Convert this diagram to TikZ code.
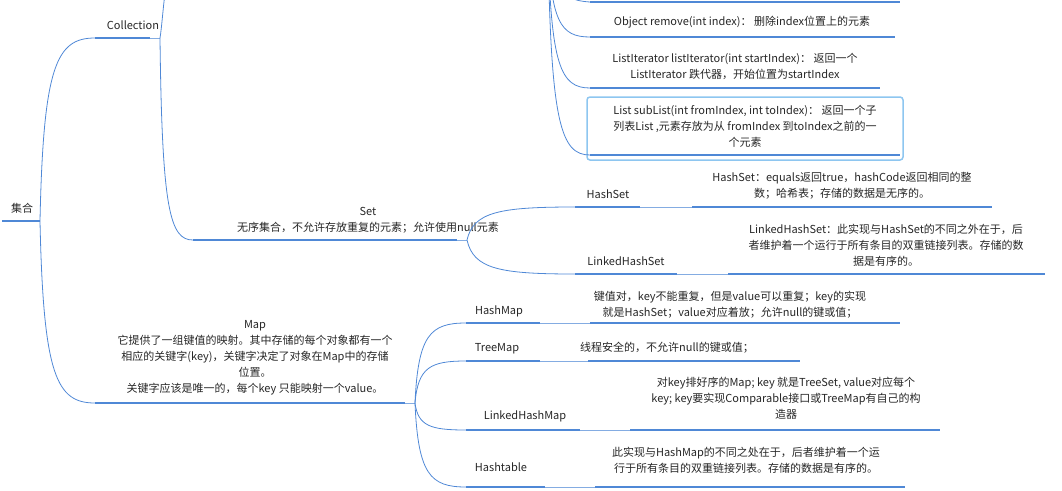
\documentclass[tikz,border=0pt]{standalone}
\usepackage{fontspec}
\setmainfont{Noto Sans CJK SC}
\usetikzlibrary{calc}
\definecolor{mb}{HTML}{4F88D6}
\definecolor{lb}{HTML}{8EC6F0}
\tikzset{ul/.style={draw=mb,line width=2.6pt},
 thin/.style={draw=mb!70,line width=0.8pt},
 conn/.style={draw=mb,line width=0.8pt},
 tx/.style={inner sep=0pt,align=center,font=\fontsize{11}{16}\selectfont,text=black!85}}
\newcommand\mcurve[2]{\draw[conn] let \p1=(#1),\p2=(#2) in (#1) .. controls ({\x1+0.06*(\x2-\x1)},{\y1+0.85*(\y2-\y1)}) and ({\x1+0.3*(\x2-\x1)},\y2) .. (#2);}
\begin{document}
\begin{tikzpicture}[x=1pt,y=-1pt]
\useasboundingbox (0,0) rectangle (1062,490);
\clip (0,0) rectangle (1062,490);
% root
\coordinate (r0) at (2,221); \coordinate (r1) at (40,221);
\draw[ul] (r0)--(r1); \node[tx] (rt) at (22,208) {集合};
% Collection
\coordinate (c0) at (95,38); \coordinate (c1) at (150,38); \coordinate (c2) at (160,38);
\draw[ul] (c0)--(c1); \draw[thin] (c1)--(c2);
\node[tx] (ct) at (133,25) {Collection};
% Map
\coordinate (m0) at (95,403); \coordinate (m1) at (405,403); \coordinate (m2) at (415,403);
\draw[ul] (m0)--(m1); \draw[thin] (m1)--(m2);
\node[tx] (mt) at (255,358) {Map\\它提供了一组键值的映射。其中存储的每个对象都有一个\\相应的关键字(key)，关键字决定了对象在Map中的存储\\位置。\\关键字应该是唯一的，每个key 只能映射一个value。};
\mcurve{r1}{c0} \mcurve{r1}{m0}
% List origin (off top)
\coordinate (lo) at (548,-60);
\coordinate (cl) at (175,-60);
\draw[conn] (c2) .. controls (163,20) and (164,-20) .. (cl);
% Set
\coordinate (s0) at (193,240); \coordinate (s1) at (457,240); \coordinate (s2) at (467,240);
\draw[ul] (s0)--(s1); \draw[thin] (s1)--(s2);
\node[tx] (st) at (368,220) {Set\\无序集合，不允许存放重复的元素；允许使用null元素};
\mcurve{c2}{s0}
% List items
\coordinate (i0a) at (590,2); \coordinate (i0b) at (900,2);
\draw[ul] (i0a)--(i0b);
\coordinate (i1a) at (590,37); \coordinate (i1b) at (895,37);
\draw[ul] (i1a)--(i1b);
\node[tx] (i1t) at (742,22) {Object remove(int index)： 删除index位置上的元素};
\coordinate (i2a) at (590,88); \coordinate (i2b) at (880,88);
\draw[ul] (i2a)--(i2b);
\node[tx] (i2t) at (735,66) {ListIterator listIterator(int startIndex)： 返回一个\\ListIterator 跌代器，开始位置为startIndex};
\draw[lb,line width=1.5pt,rounded corners=3pt] (587,97) rectangle (903,160);
\coordinate (i3a) at (590,155); \coordinate (i3b) at (900,155);
\draw[ul] (i3a)--(i3b);
\node[tx] (i3t) at (745,126) {List subList(int fromIndex, int toIndex)： 返回一个子\\列表List ,元素存放为从 fromIndex 到toIndex之前的一\\个元素};
\draw[conn] (lo) .. controls (549,-20) and (555,0) .. (i0a);
\mcurve{lo}{i1a} \mcurve{lo}{i2a} \mcurve{lo}{i3a}
% Set children
\coordinate (h0) at (575,207); \coordinate (h1) at (640,207); \coordinate (h2) at (692,207); \coordinate (h3) at (992,207);
\draw[ul] (h0)--(h1); \draw[thin] (h1)--(h2); \draw[ul] (h2)--(h3);
\node[tx] (ht) at (608,194) {HashSet};
\node[tx] (hd) at (842,186) {HashSet：equals返回true，hashCode返回相同的整\\数；哈希表；存储的数据是无序的。};
\coordinate (l0) at (575,274); \coordinate (l1) at (677,274); \coordinate (l2) at (728,274); \coordinate (l3) at (1045,274);
\draw[ul] (l0)--(l1); \draw[thin] (l1)--(l2); \draw[ul] (l2)--(l3);
\node[tx] (lt) at (626,261) {LinkedHashSet};
\node[tx] (ld) at (886,245) {LinkedHashSet：此实现与HashSet的不同之外在于，后\\者维护着一个运行于所有条目的双重链接列表。存储的数\\据是有序的。};
\mcurve{s2}{h0} \mcurve{s2}{l0}
% Map children
\coordinate (a0) at (466,323); \coordinate (a1) at (540,323); \coordinate (a2) at (590,323); \coordinate (a3) at (900,323);
\draw[ul] (a0)--(a1); \draw[thin] (a1)--(a2); \draw[ul] (a2)--(a3);
\node[tx] (at) at (499,311) {HashMap};
\node[tx] (ad) at (730,305) {键值对，key不能重复，但是value可以重复；key的实现\\就是HashSet；value对应着放；允许null的键或值；};
\coordinate (b0) at (466,361); \coordinate (b1) at (540,361); \coordinate (b2) at (588,361); \coordinate (b3) at (800,361);
\draw[ul] (b0)--(b1); \draw[thin] (b1)--(b2); \draw[ul] (b2)--(b3);
\node[tx] (bt) at (497,349) {TreeMap};
\node[tx] (bd) at (667,348) {线程安全的，不允许null的键或值；};
\coordinate (d0) at (466,430); \coordinate (d1) at (580,430); \coordinate (d2) at (630,430); \coordinate (d3) at (940,430);
\draw[ul] (d0)--(d1); \draw[thin] (d1)--(d2); \draw[ul] (d2)--(d3);
\node[tx] (dt) at (525,416) {LinkedHashMap};
\node[tx] (dd) at (786,398) {对key排好序的Map; key 就是TreeSet, value对应每个\\key; key要实现Comparable接口或TreeMap有自己的构\\造器};
\coordinate (e0) at (466,487); \coordinate (e1) at (545,487); \coordinate (e2) at (595,487); \coordinate (e3) at (905,487);
\draw[ul] (e0)--(e1); \draw[thin] (e1)--(e2); \draw[ul] (e2)--(e3);
\node[tx] (et) at (501,467) {Hashtable};
\node[tx] (ed) at (746,460) {此实现与HashMap的不同之处在于，后者维护着一个运\\行于所有条目的双重链接列表。存储的数据是有序的。};
\mcurve{m2}{a0} \mcurve{m2}{b0} \mcurve{m2}{d0} \mcurve{m2}{e0}
\end{tikzpicture}
\end{document}
